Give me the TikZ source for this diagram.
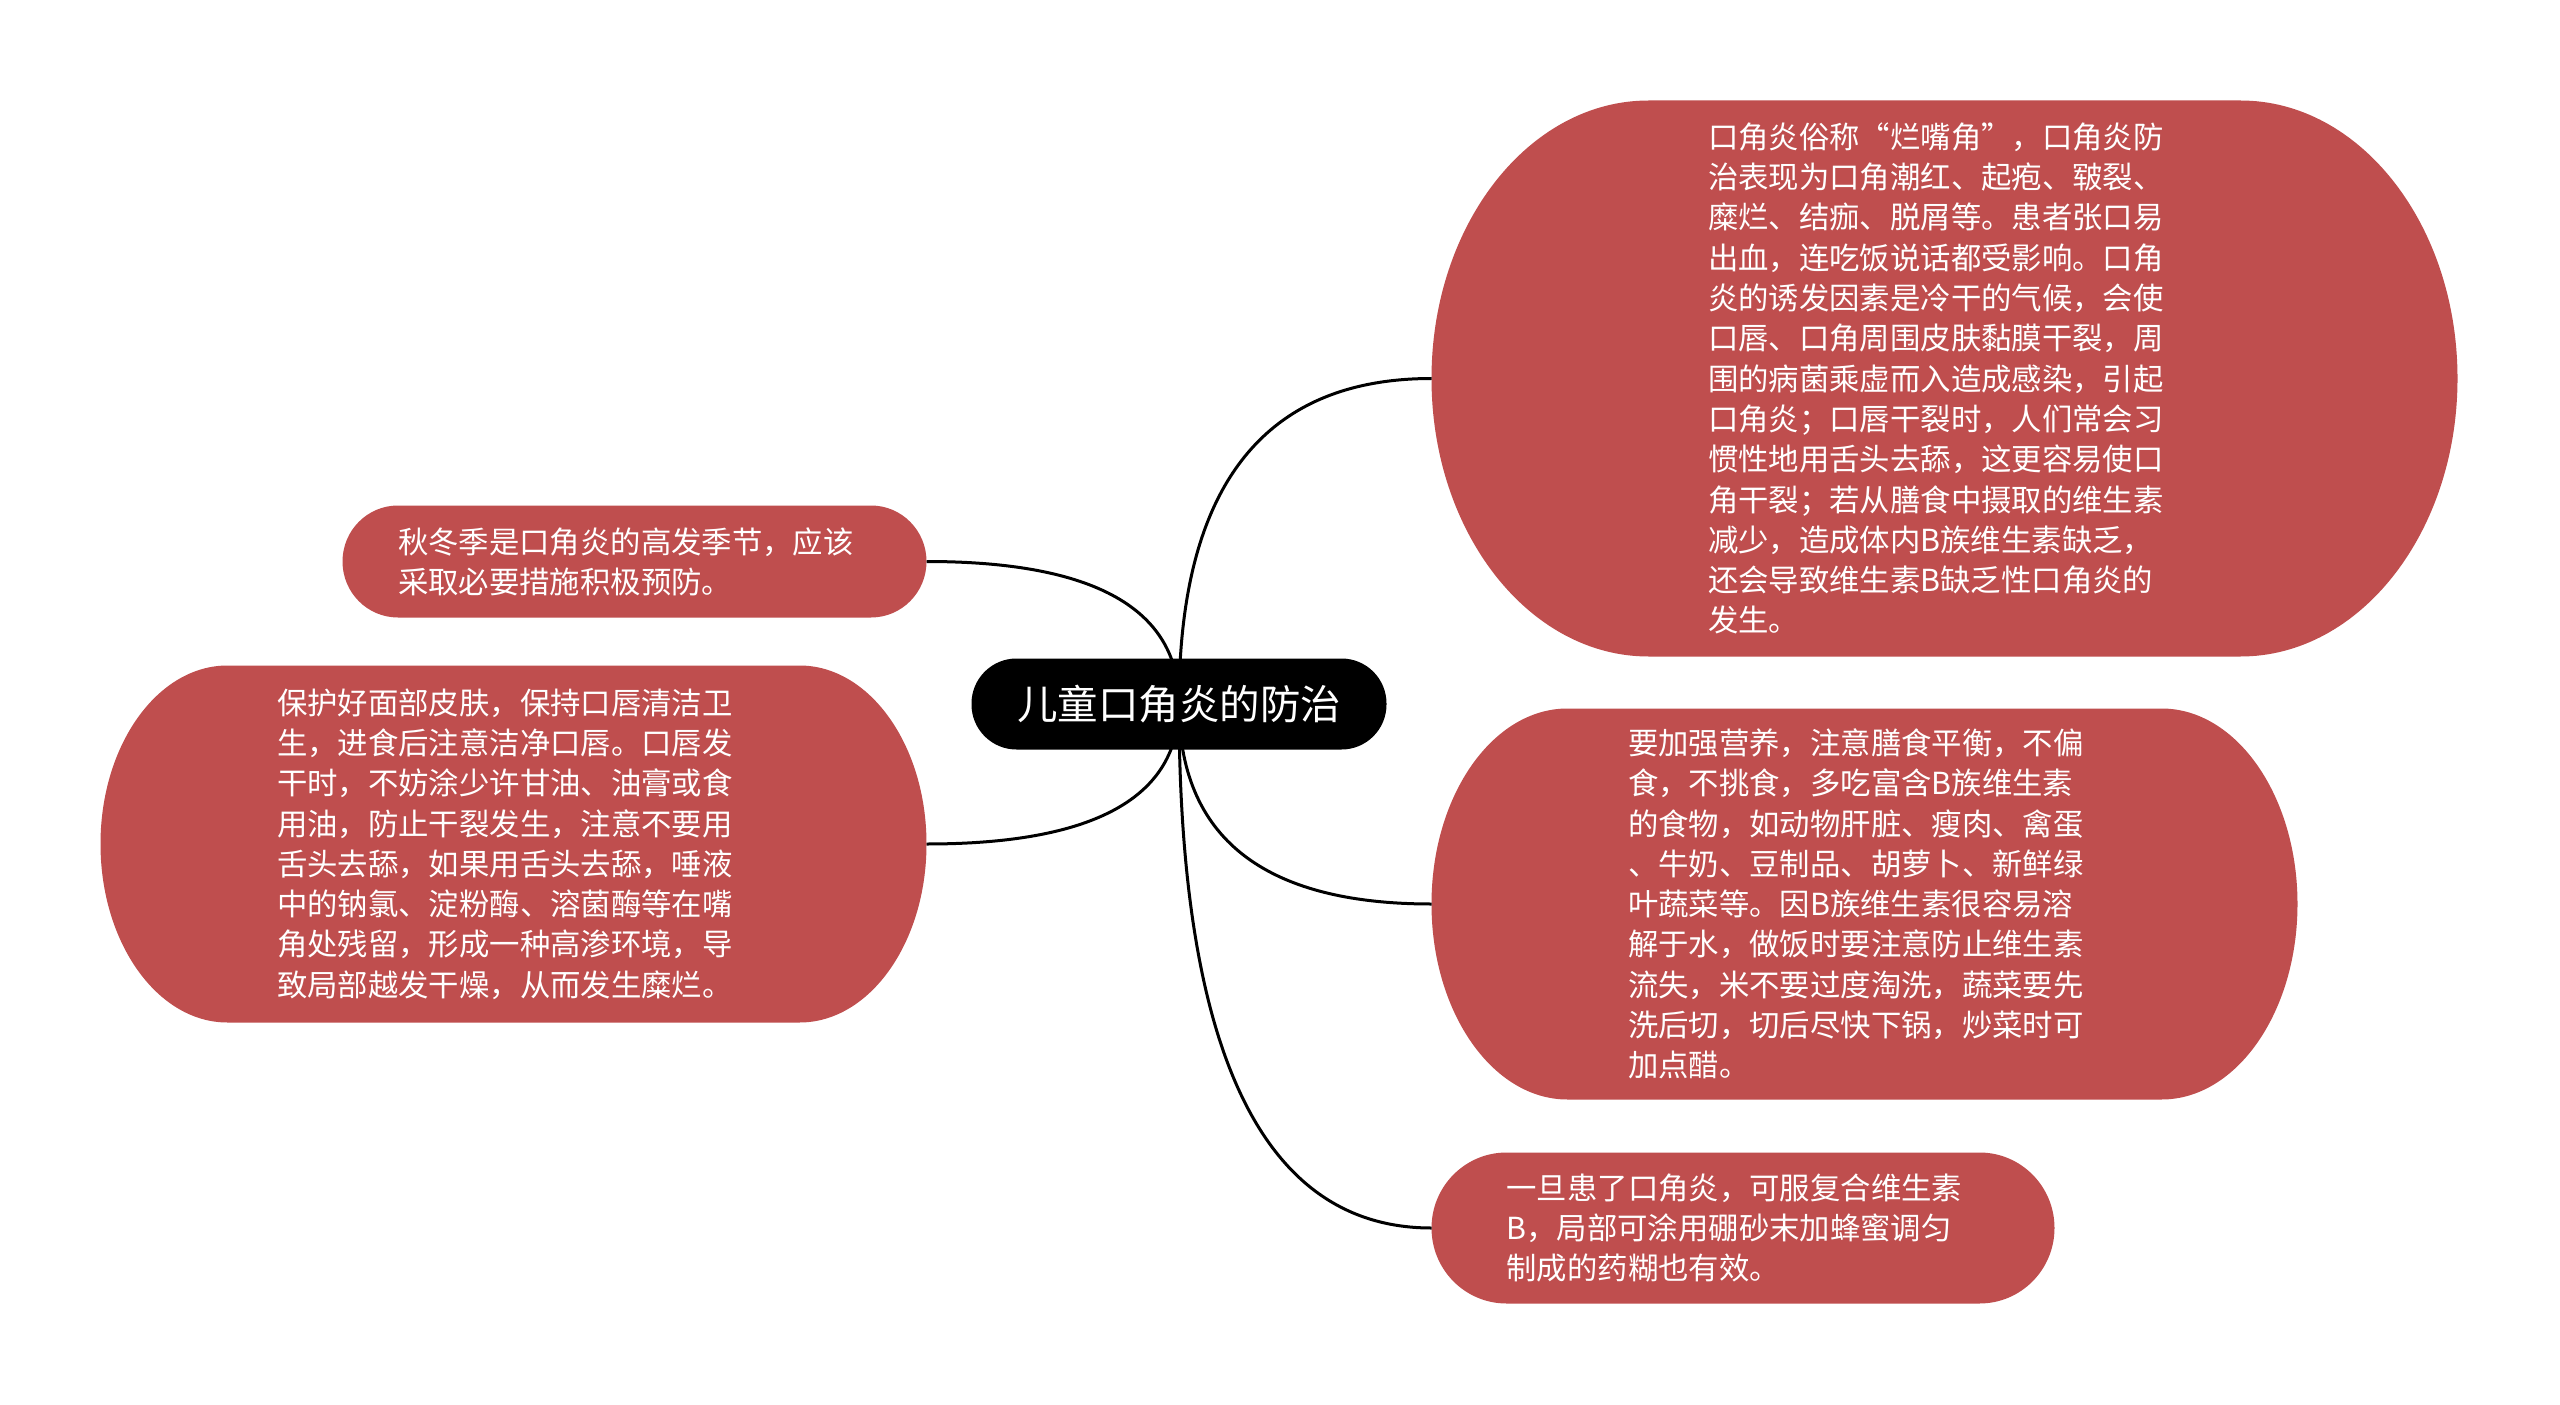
\documentclass[tikz,border=0pt]{standalone}
\usepackage{fontspec}
\newfontfamily\cjkfont{Noto Sans CJK SC}
\usetikzlibrary{calc,backgrounds}

\newlength{\du}
\setlength{\du}{0.4pt}

% filled topic shape with elliptic ends, #2 = end radius
\newcommand{\topicblob}[2]{%
\fill[topiccolor] ($(#1.north west)+(#2\du,0)$)--($(#1.north east)+(-#2\du,0)$)
  .. controls ($(#1.north east)+(-0.4477*#2\du,0)$) and ($(#1.east)!0.5523!(#1.north east)$) .. (#1.east)
  .. controls ($(#1.east)!0.5523!(#1.south east)$) and ($(#1.south east)+(-0.4477*#2\du,0)$) .. ($(#1.south east)+(-#2\du,0)$)
  --($(#1.south west)+(#2\du,0)$)
  .. controls ($(#1.south west)+(0.4477*#2\du,0)$) and ($(#1.west)!0.5523!(#1.south west)$) .. (#1.west)
  .. controls ($(#1.west)!0.5523!(#1.north west)$) and ($(#1.north west)+(0.4477*#2\du,0)$) .. ($(#1.north west)+(#2\du,0)$)--cycle;}

% curved line from the root to a topic anchor
\newcommand{\branchto}[1]{%
\draw[branch] (root.center) .. controls ($(root.center)!0.6667!(root.center |- #1)$) and ($(#1)!0.6667!(root.center |- #1)$) .. (#1);}

\begin{document}
\begin{tikzpicture}[
  topic/.style={rectangle, inner sep=0pt, text width=473\du, align=left, text=white,
    font=\cjkfont\fontsize{12.15}{16.12}\selectfont},
  rootbox/.style={rectangle, inner sep=0pt, rounded corners=45\du, fill=black, text=white,
    font=\cjkfont\fontsize{16.2}{19}\selectfont},
  branch/.style={draw=black, line width=3\du},
]
\pgftransformxscale{1.000000}
\pgftransformyscale{-1.000000}
\definecolor{topiccolor}{rgb}{0.749000, 0.306000, 0.306000}
\useasboundingbox (0\du,0\du) rectangle (2560\du,1405\du);
% right side
\node[topic, minimum width=1025\du, minimum height=555\du] (tr) at (1944.5\du,378.5\du){口角炎俗称“烂嘴角”，口角炎防\\治表现为口角潮红、起疱、皲裂、\\糜烂、结痂、脱屑等。患者张口易\\出血，连吃饭说话都受影响。口角\\炎的诱发因素是冷干的气候，会使\\口唇、口角周围皮肤黏膜干裂，周\\围的病菌乘虚而入造成感染，引起\\口角炎；口唇干裂时，人们常会习\\惯性地用舌头去舔，这更容易使口\\角干裂；若从膳食中摄取的维生素\\减少，造成体内B族维生素缺乏，\\还会导致维生素B缺乏性口角炎的\\发生。};
\node[topic, minimum width=865\du, minimum height=390\du] (mr) at (1864.5\du,904\du){要加强营养，注意膳食平衡，不偏\\食，不挑食，多吃富含B族维生素\\的食物，如动物肝脏、瘦肉、禽蛋\\、牛奶、豆制品、胡萝卜、新鲜绿\\叶蔬菜等。因B族维生素很容易溶\\解于水，做饭时要注意防止维生素\\流失，米不要过度淘洗，蔬菜要先\\洗后切，切后尽快下锅，炒菜时可\\加点醋。};
\node[topic, minimum width=622\du, minimum height=150\du] (br) at (1743\du,1228\du){一旦患了口角炎，可服复合维生素\\B，局部可涂用硼砂末加蜂蜜调匀\\制成的药糊也有效。};
% left side
\node[topic, minimum width=583\du, minimum height=111\du] (tl) at (634.5\du,561.5\du){秋冬季是口角炎的高发季节，应该\\采取必要措施积极预防。};
\node[topic, minimum width=825\du, minimum height=356\du] (bl) at (513.5\du,844\du){保护好面部皮肤，保持口唇清洁卫\\生，进食后注意洁净口唇。口唇发\\干时，不妨涂少许甘油、油膏或食\\用油，防止干裂发生，注意不要用\\舌头去舔，如果用舌头去舔，唾液\\中的钠氯、淀粉酶、溶菌酶等在嘴\\角处残留，形成一种高渗环境，导\\致局部越发干燥，从而发生糜烂。};
\node[rootbox, minimum width=415\du, minimum height=91\du] (root) at (1179\du,704\du){儿童口角炎的防治};
\begin{pgfonlayer}{background}
\fill[white] (0\du,0\du) rectangle (2560\du,1405\du);
\topicblob{tr}{217}
\topicblob{mr}{136}
\topicblob{br}{75}
\topicblob{tl}{55.5}
\topicblob{bl}{127}
\branchto{tr.west}
\branchto{mr.west}
\branchto{br.west}
\branchto{tl.east}
\branchto{bl.east}
\end{pgfonlayer}
\end{tikzpicture}
\end{document}
